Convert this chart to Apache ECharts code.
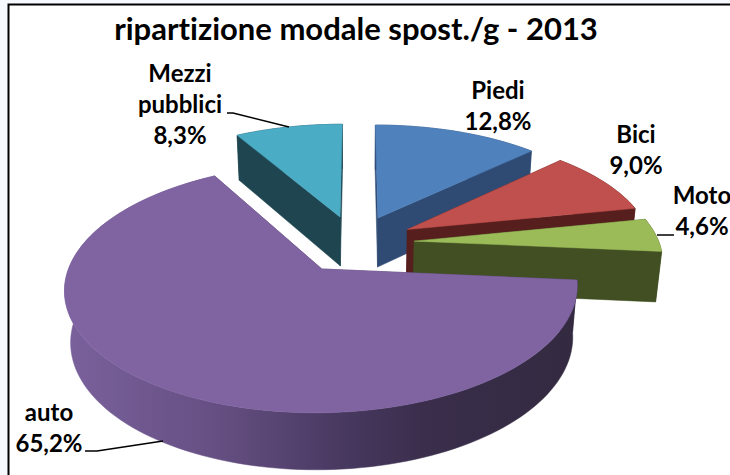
<!DOCTYPE html>
<html>
<head>
<meta charset="utf-8">
<style>
  html, body { margin: 0; padding: 0; background: #fff; }
  #chart { width: 730px; height: 475px; }
  #chart text { font-variant-ligatures: none; }
</style>
<script src="https://cdn.jsdelivr.net/npm/echarts@6/dist/echarts.min.js"></script>
</head>
<body>
<div id="chart"></div>
<script>
// data, clockwise from 12 o'clock
const categories = ["Piedi", "Bici", "Moto", "auto", "Mezzi pubblici"];
const shares = [12.8, 9.0, 4.6, 65.2, 8.3];
const shareLabels = ["12,8%", "9,0%", "4,6%", "65,2%", "8,3%"];

// how far each slice is pulled out of the pie (disc units, x right / y away)
const pullX = [0.084, 0.205, 0.23, -0.143, -0.076];
const pullY = [0.2, 0.094, -0.01, -0.247, 0.21];
const topColors = ["#4F81BD", "#C0504D", "#9BBB59", "#8064A2", "#4BACC6"];
const sideColors = ["#2F4B73", "#561F1E", "#414F23", "#4C3C63", "#1F4650"];
// painter's order: back slices first, auto last
const drawOrder = [4, 0, 1, 2, 3];

// label layout, one text block per category
const labelNames = [["Piedi"], ["Bici"], ["Moto"], ["auto"], ["Mezzi", "pubblici"]];
const labelPos = [[498, 89], [636, 133], [702, 194], [49, 411], [180, 72]];
const labelGap = 31;
const leaders = [null, null, [[657, 235], [674, 235]], [[85, 451], [97, 451], [163, 441]], [[227, 113], [233, 113], [289, 127]]];

// perspective of the tilted disc
const CX = 358, CY = 240;
const SCALE_X = 244, SCALE_Y = 112.9, PERSP = 0.1486;
const THICK = 51, THICK_PERSP = 0.02;

const total = shares.reduce((a, b) => a + b, 0);
const toAngle = (v) => echarts.number.linearMap(v, [0, total], [0, Math.PI * 2]);

// world point on the disc -> screen, low = bottom of the slab
function project(x, y, low) {
  const d = 1 + PERSP * y + (low ? THICK_PERSP : 0);
  return [
    CX + (SCALE_X * x) / d,
    CY + (-SCALE_Y * y + (low ? THICK : 0)) / d,
  ];
}

function sliceGeometry(i) {
  const start = shares.slice(0, i).reduce((a, b) => a + b, 0);
  const a0 = toAngle(start);
  const a1 = toAngle(start + shares[i]);
  const ox = pullX[i];
  const oy = pullY[i];
  const steps = Math.max(12, Math.round(shares[i] * 2));
  const rim = [];
  for (let s = 0; s <= steps; s++) {
    const a = a0 + ((a1 - a0) * s) / steps;
    rim.push([ox + Math.sin(a), oy + Math.cos(a)]);
  }
  return { apex: [ox, oy], rim };
}

const poly = (points, fill, z2) => ({
  type: "polygon",
  shape: { points },
  style: { fill, stroke: fill, lineWidth: 0.5 },
  z2,
  silent: true,
});

function renderSlice(params, api) {
  const order = api.value(0);
  const i = drawOrder[order];
  const { apex, rim } = sliceGeometry(i);
  const topRim = rim.map((p) => project(p[0], p[1], false));
  const lowRim = rim.map((p) => project(p[0], p[1], true));
  const apexTop = project(apex[0], apex[1], false);
  const apexLow = project(apex[0], apex[1], true);
  const last = rim.length - 1;
  // z2 is shared by the whole series, so later slices must sit above earlier tops
  const base = order * 10;

  let rimFill = sideColors[i];
  if (categories[i] === "auto") {
    rimFill = new echarts.graphic.LinearGradient(0, 0, 1, 0, [
      { offset: 0, color: "#7A619C" },
      { offset: 0.3, color: "#654F82" },
      { offset: 0.55, color: "#47385F" },
      { offset: 0.7, color: "#3A2E4C" },
      { offset: 1, color: "#332A40" },
    ]);
  }

  return {
    type: "group",
    children: [
      poly([apexTop, topRim[0], lowRim[0], apexLow], sideColors[i], base + 1),
      poly([apexTop, topRim[last], lowRim[last], apexLow], sideColors[i], base + 1),
      poly(topRim.concat(lowRim.slice().reverse()), rimFill, base + 2),
      poly([apexTop].concat(topRim), topColors[i], base + 3),
    ],
  };
}

function renderLabels() {
  const children = [];
  labelNames.forEach((names, i) => {
    names.concat(shareLabels[i]).forEach((line, n) => {
      children.push({
        type: "text",
        style: {
          x: labelPos[i][0],
          y: labelPos[i][1] + n * labelGap,
          text: line,
          fill: "#000",
          font: "bold 24px Lato, sans-serif",
          align: "center",
          verticalAlign: "middle",
        },
        silent: true,
      });
    });
    if (leaders[i]) {
      children.push({
        type: "polyline",
        shape: { points: leaders[i] },
        style: { stroke: "#000", lineWidth: 1.5, fill: null },
        silent: true,
      });
    }
  });
  return { type: "group", children };
}

const chart = echarts.init(document.getElementById("chart"), null, { renderer: "svg" });

chart.setOption({
  animation: false,
  backgroundColor: "#F6FAFE",
  title: {
    text: "ripartizione modale spost./g - 2013",
    left: 351,
    top: 23,
    textAlign: "center",
    textVerticalAlign: "middle",
    textStyle: { fontFamily: "Lato, sans-serif", fontWeight: "bold", fontSize: 31, color: "#000" },
  },
  tooltip: { show: false },
  graphic: [
    {
      type: "rect",
      shape: { x: 8.5, y: 4.5, width: 740, height: 490 },
      style: { fill: "#fff", stroke: "#000", lineWidth: 2 },
      z: -1,
      silent: true,
    },
  ],
  series: [
    {
      type: "custom",
      coordinateSystem: "none",
      data: drawOrder.map((_, n) => [n]),
      renderItem: renderSlice,
      clip: false,
      z: 2,
    },
    {
      type: "custom",
      coordinateSystem: "none",
      data: [[0]],
      renderItem: renderLabels,
      z: 3,
    },
  ],
});
</script>
</body>
</html>
